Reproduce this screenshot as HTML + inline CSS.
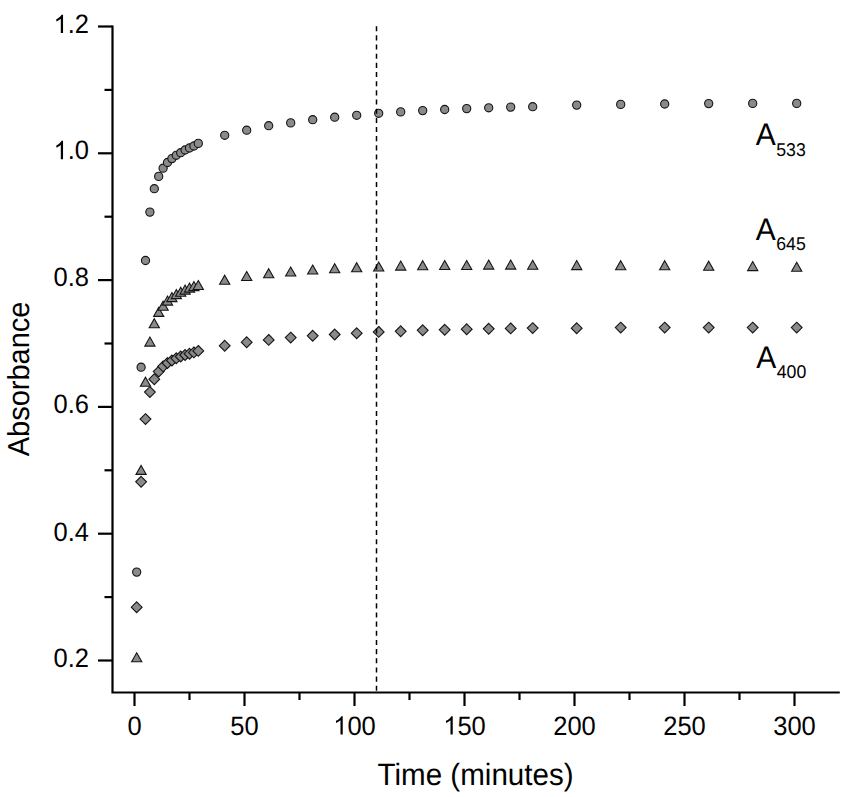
<!DOCTYPE html>
<html><head><meta charset="utf-8"><style>
html,body{margin:0;padding:0;background:#fff;}
body{width:850px;height:797px;overflow:hidden;}
svg{display:block;font-family:"Liberation Sans",sans-serif;text-rendering:geometricPrecision;}
</style></head><body>
<svg width="850" height="797" viewBox="0 0 850 797">
<rect width="850" height="797" fill="#fff"/>
<g stroke="#000" stroke-width="2.2" fill="none">
<path d="M112.5 25.4V692.5H839.8"/>
<line x1="98" y1="660.5" x2="112.5" y2="660.5"/>
<line x1="104.5" y1="597.1" x2="112.5" y2="597.1"/>
<line x1="98" y1="533.7" x2="112.5" y2="533.7"/>
<line x1="104.5" y1="470.3" x2="112.5" y2="470.3"/>
<line x1="98" y1="406.9" x2="112.5" y2="406.9"/>
<line x1="104.5" y1="343.5" x2="112.5" y2="343.5"/>
<line x1="98" y1="280.1" x2="112.5" y2="280.1"/>
<line x1="104.5" y1="216.7" x2="112.5" y2="216.7"/>
<line x1="98" y1="153.3" x2="112.5" y2="153.3"/>
<line x1="104.5" y1="89.9" x2="112.5" y2="89.9"/>
<line x1="98" y1="26.5" x2="112.5" y2="26.5"/>
<line x1="134.5" y1="692" x2="134.5" y2="706"/>
<line x1="189.5" y1="692" x2="189.5" y2="700"/>
<line x1="244.5" y1="692" x2="244.5" y2="706"/>
<line x1="299.5" y1="692" x2="299.5" y2="700"/>
<line x1="354.5" y1="692" x2="354.5" y2="706"/>
<line x1="409.5" y1="692" x2="409.5" y2="700"/>
<line x1="464.5" y1="692" x2="464.5" y2="706"/>
<line x1="519.5" y1="692" x2="519.5" y2="700"/>
<line x1="574.5" y1="692" x2="574.5" y2="706"/>
<line x1="629.5" y1="692" x2="629.5" y2="700"/>
<line x1="684.5" y1="692" x2="684.5" y2="706"/>
<line x1="739.5" y1="692" x2="739.5" y2="700"/>
<line x1="794.5" y1="692" x2="794.5" y2="706"/>
</g>
<g fill="#8a8a8a" stroke="#141414" stroke-width="1.1">
<circle cx="136.7" cy="572.1" r="4.1"/>
<circle cx="141.1" cy="367.2" r="4.1"/>
<circle cx="145.5" cy="260.5" r="4.1"/>
<circle cx="149.9" cy="212.1" r="4.1"/>
<circle cx="154.3" cy="188.7" r="4.1"/>
<circle cx="158.7" cy="176.4" r="4.1"/>
<circle cx="163.1" cy="168.2" r="4.1"/>
<circle cx="167.5" cy="162.5" r="4.1"/>
<circle cx="171.9" cy="158.6" r="4.1"/>
<circle cx="176.3" cy="155.3" r="4.1"/>
<circle cx="180.7" cy="152.7" r="4.1"/>
<circle cx="185.1" cy="150" r="4.1"/>
<circle cx="189.5" cy="148" r="4.1"/>
<circle cx="193.9" cy="146" r="4.1"/>
<circle cx="198.3" cy="143.4" r="4.1"/>
<circle cx="224.7" cy="135.3" r="4.1"/>
<circle cx="246.7" cy="130.2" r="4.1"/>
<circle cx="268.7" cy="125.7" r="4.1"/>
<circle cx="290.7" cy="122.9" r="4.1"/>
<circle cx="312.7" cy="119.7" r="4.1"/>
<circle cx="334.7" cy="117.2" r="4.1"/>
<circle cx="356.7" cy="115.3" r="4.1"/>
<circle cx="378.7" cy="113.3" r="4.1"/>
<circle cx="400.7" cy="111.9" r="4.1"/>
<circle cx="422.7" cy="110.6" r="4.1"/>
<circle cx="444.7" cy="109.5" r="4.1"/>
<circle cx="466.7" cy="108.6" r="4.1"/>
<circle cx="488.7" cy="107.8" r="4.1"/>
<circle cx="510.7" cy="107.1" r="4.1"/>
<circle cx="532.7" cy="106.7" r="4.1"/>
<circle cx="576.7" cy="105.1" r="4.1"/>
<circle cx="620.7" cy="104.4" r="4.1"/>
<circle cx="664.7" cy="104" r="4.1"/>
<circle cx="708.7" cy="103.6" r="4.1"/>
<circle cx="752.7" cy="103.4" r="4.1"/>
<circle cx="796.7" cy="103.4" r="4.1"/>
<path d="M136.7 652.8L141.8 661.8H131.6Z"/>
<path d="M141.1 465.4L146.2 474.4H136Z"/>
<path d="M145.5 377.2L150.6 386.2H140.4Z"/>
<path d="M149.9 337.1L155 346.1H144.8Z"/>
<path d="M154.3 318.7L159.4 327.7H149.2Z"/>
<path d="M158.7 307.4L163.8 316.4H153.6Z"/>
<path d="M163.1 301.2L168.2 310.2H158Z"/>
<path d="M167.5 296.1L172.6 305.1H162.4Z"/>
<path d="M171.9 292.6L177 301.6H166.8Z"/>
<path d="M176.3 289.6L181.4 298.6H171.2Z"/>
<path d="M180.7 287.3L185.8 296.3H175.6Z"/>
<path d="M185.1 285.1L190.2 294.1H180Z"/>
<path d="M189.5 283.1L194.6 292.1H184.4Z"/>
<path d="M193.9 281.6L199 290.6H188.8Z"/>
<path d="M198.3 280.5L203.4 289.5H193.2Z"/>
<path d="M224.7 275.2L229.8 284.2H219.6Z"/>
<path d="M246.7 271.5L251.8 280.5H241.6Z"/>
<path d="M268.7 268.7L273.8 277.7H263.6Z"/>
<path d="M290.7 267L295.8 276H285.6Z"/>
<path d="M312.7 265L317.8 274H307.6Z"/>
<path d="M334.7 263.7L339.8 272.7H329.6Z"/>
<path d="M356.7 262.7L361.8 271.7H351.6Z"/>
<path d="M378.7 262L383.8 271H373.6Z"/>
<path d="M400.7 261.1L405.8 270.1H395.6Z"/>
<path d="M422.7 260.7L427.8 269.7H417.6Z"/>
<path d="M444.7 260.5L449.8 269.5H439.6Z"/>
<path d="M466.7 260.5L471.8 269.5H461.6Z"/>
<path d="M488.7 260.1L493.8 269.1H483.6Z"/>
<path d="M510.7 260.1L515.8 269.1H505.6Z"/>
<path d="M532.7 260.3L537.8 269.3H527.6Z"/>
<path d="M576.7 260.6L581.8 269.6H571.6Z"/>
<path d="M620.7 260.7L625.8 269.7H615.6Z"/>
<path d="M664.7 260.7L669.8 269.7H659.6Z"/>
<path d="M708.7 261.2L713.8 270.2H703.6Z"/>
<path d="M752.7 261.6L757.8 270.6H747.6Z"/>
<path d="M796.7 262.3L801.8 271.3H791.6Z"/>
<path d="M136.7 601.8L142.1 607.2L136.7 612.6L131.3 607.2Z"/>
<path d="M141.1 476.4L146.5 481.8L141.1 487.2L135.7 481.8Z"/>
<path d="M145.5 413.7L150.9 419.1L145.5 424.5L140.1 419.1Z"/>
<path d="M149.9 386.7L155.3 392.1L149.9 397.5L144.5 392.1Z"/>
<path d="M154.3 373.8L159.7 379.2L154.3 384.6L148.9 379.2Z"/>
<path d="M158.7 366.2L164.1 371.6L158.7 377L153.3 371.6Z"/>
<path d="M163.1 361L168.5 366.4L163.1 371.8L157.7 366.4Z"/>
<path d="M167.5 357.6L172.9 363L167.5 368.4L162.1 363Z"/>
<path d="M171.9 355.1L177.3 360.5L171.9 365.9L166.5 360.5Z"/>
<path d="M176.3 352.9L181.7 358.3L176.3 363.7L170.9 358.3Z"/>
<path d="M180.7 351.1L186.1 356.5L180.7 361.9L175.3 356.5Z"/>
<path d="M185.1 349.6L190.5 355L185.1 360.4L179.7 355Z"/>
<path d="M189.5 348.3L194.9 353.7L189.5 359.1L184.1 353.7Z"/>
<path d="M193.9 347L199.3 352.4L193.9 357.8L188.5 352.4Z"/>
<path d="M198.3 345.5L203.7 350.9L198.3 356.3L192.9 350.9Z"/>
<path d="M224.7 340.3L230.1 345.7L224.7 351.1L219.3 345.7Z"/>
<path d="M246.7 336.8L252.1 342.2L246.7 347.6L241.3 342.2Z"/>
<path d="M268.7 334.5L274.1 339.9L268.7 345.3L263.3 339.9Z"/>
<path d="M290.7 332.2L296.1 337.6L290.7 343L285.3 337.6Z"/>
<path d="M312.7 330.4L318.1 335.8L312.7 341.2L307.3 335.8Z"/>
<path d="M334.7 329.1L340.1 334.5L334.7 339.9L329.3 334.5Z"/>
<path d="M356.7 327.8L362.1 333.2L356.7 338.6L351.3 333.2Z"/>
<path d="M378.7 326.5L384.1 331.9L378.7 337.3L373.3 331.9Z"/>
<path d="M400.7 325.9L406.1 331.3L400.7 336.7L395.3 331.3Z"/>
<path d="M422.7 324.9L428.1 330.3L422.7 335.7L417.3 330.3Z"/>
<path d="M444.7 324.4L450.1 329.8L444.7 335.2L439.3 329.8Z"/>
<path d="M466.7 323.8L472.1 329.2L466.7 334.6L461.3 329.2Z"/>
<path d="M488.7 323.4L494.1 328.8L488.7 334.2L483.3 328.8Z"/>
<path d="M510.7 323L516.1 328.4L510.7 333.8L505.3 328.4Z"/>
<path d="M532.7 322.7L538.1 328.1L532.7 333.5L527.3 328.1Z"/>
<path d="M576.7 322.8L582.1 328.2L576.7 333.6L571.3 328.2Z"/>
<path d="M620.7 322.2L626.1 327.6L620.7 333L615.3 327.6Z"/>
<path d="M664.7 322.2L670.1 327.6L664.7 333L659.3 327.6Z"/>
<path d="M708.7 322.2L714.1 327.6L708.7 333L703.3 327.6Z"/>
<path d="M752.7 322.2L758.1 327.6L752.7 333L747.3 327.6Z"/>
<path d="M796.7 322.2L802.1 327.6L796.7 333L791.3 327.6Z"/>
</g>
<line x1="376.5" y1="26.2" x2="376.5" y2="692" stroke="#000" stroke-width="1.5" stroke-dasharray="5.1 4.06"/>
<g font-size="25.5" fill="#000">
<text transform="translate(53.55 33.00) scale(1 1.045)">&#8199;.2</text>
<path transform="translate(53.55 33.00) scale(0.01245 -0.01245)" d="M763 0H583V1147Q518 1085 412 1023Q306 961 222 930V1104Q373 1175 486 1276Q599 1377 646 1472H763Z"/>
<text transform="translate(53.55 159.20) scale(1 1.045)">&#8199;.0</text>
<path transform="translate(53.55 159.20) scale(0.01245 -0.01245)" d="M763 0H583V1147Q518 1085 412 1023Q306 961 222 930V1104Q373 1175 486 1276Q599 1377 646 1472H763Z"/>
<text transform="translate(53.55 286.40) scale(1 1.045)">0.8</text>
<text transform="translate(53.55 413.20) scale(1 1.045)">0.6</text>
<text transform="translate(53.55 540.80) scale(1 1.045)">0.4</text>
<text transform="translate(53.55 667.40) scale(1 1.045)">0.2</text>
<text transform="translate(127.41 734.60) scale(1 1.045)">0</text>
<text transform="translate(230.32 734.60) scale(1 1.045)">50</text>
<text transform="translate(333.23 734.60) scale(1 1.045)">&#8199;00</text>
<path transform="translate(333.23 734.60) scale(0.01245 -0.01245)" d="M763 0H583V1147Q518 1085 412 1023Q306 961 222 930V1104Q373 1175 486 1276Q599 1377 646 1472H763Z"/>
<text transform="translate(443.23 734.60) scale(1 1.045)">&#8199;50</text>
<path transform="translate(443.23 734.60) scale(0.01245 -0.01245)" d="M763 0H583V1147Q518 1085 412 1023Q306 961 222 930V1104Q373 1175 486 1276Q599 1377 646 1472H763Z"/>
<text transform="translate(553.23 734.60) scale(1 1.045)">200</text>
<text transform="translate(663.23 734.60) scale(1 1.045)">250</text>
<text transform="translate(773.23 734.60) scale(1 1.045)">300</text>
</g>
<text transform="translate(377.6 784.8) scale(1 1.045)" font-size="29.55" fill="#000">Time (minutes)</text>
<text transform="translate(28.6 456.3) rotate(-90) scale(1 1.045)" font-size="29" fill="#000">Absorbance</text>
<g fill="#000">
<text transform="translate(755.8 145.3) scale(1 1.045)" font-size="30">A<tspan font-size="17.7" dx="0.4" dy="10.0">533</tspan></text>
<text transform="translate(755.8 239.5) scale(1 1.045)" font-size="30">A<tspan font-size="17.7" dx="0.4" dy="9.6">645</tspan></text>
<text transform="translate(756.3 367.9) scale(1 1.045)" font-size="30">A<tspan font-size="17.7" dx="0.4" dy="9.7">400</tspan></text>
</g>
</svg>
</body></html>
